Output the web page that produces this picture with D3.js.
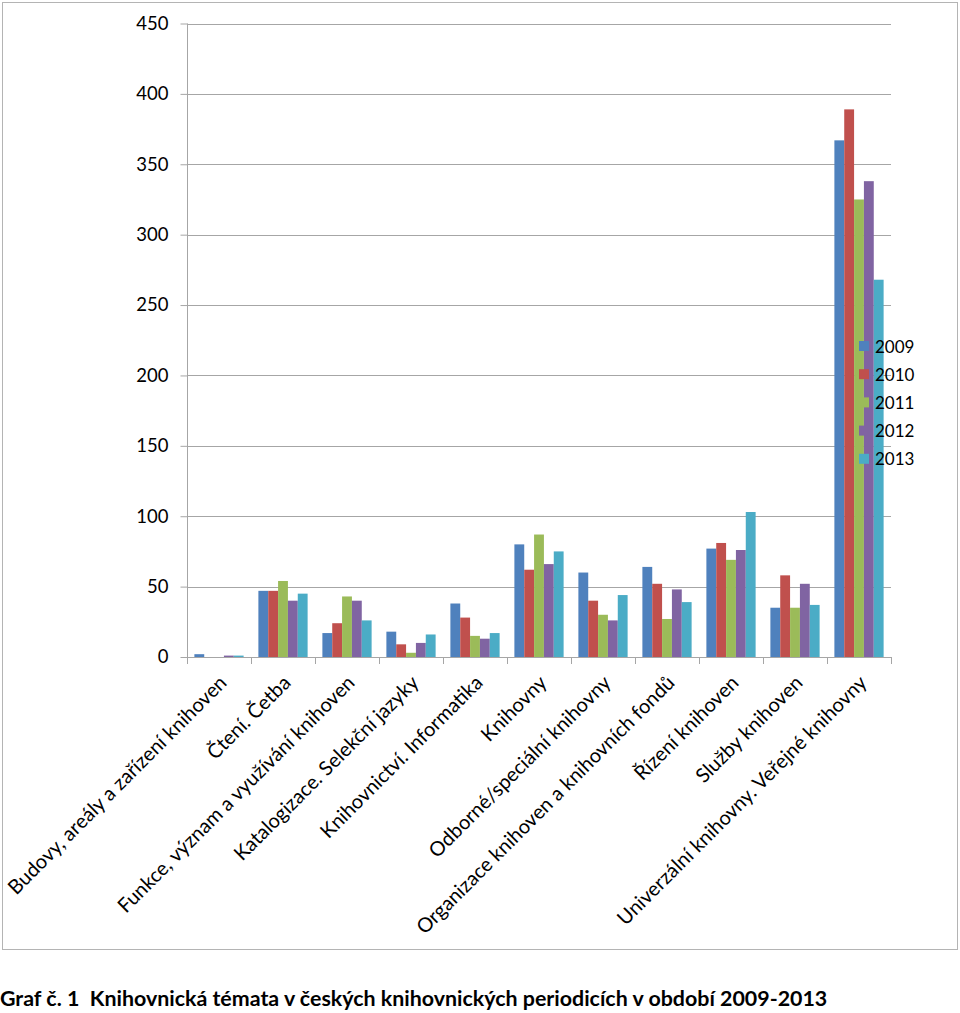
<!DOCTYPE html>
<html><head><meta charset="utf-8">
<script src="https://cdnjs.cloudflare.com/ajax/libs/d3/7.8.5/d3.min.js"></script>
<style>body{margin:0;background:#fff}svg{display:block}</style>
</head><body><svg id="c" width="960" height="1013"></svg>
<script>
const categories = [
  "Budovy, areály a zařízení knihoven",
  "Čtení. Četba",
  "Funkce, význam a využívání knihoven",
  "Katalogizace. Selekční jazyky",
  "Knihovnictví. Informatika",
  "Knihovny",
  "Odborné/speciální knihovny",
  "Organizace knihoven a knihovních fondů",
  "Řízení knihoven",
  "Služby knihoven",
  "Univerzální knihovny. Veřejné knihovny"
];
const years = ["2009","2010","2011","2012","2013"];
const v2009 = [2, 47, 17, 18, 38, 80, 60, 64, 77, 35, 367];
const v2010 = [0, 47, 24, 9, 28, 62, 40, 52, 81, 58, 389];
const v2011 = [0, 54, 43, 3, 15, 87, 30, 27, 69, 35, 325];
const v2012 = [1, 40, 40, 10, 13, 66, 26, 48, 76, 52, 338];
const v2013 = [1, 45, 26, 16, 17, 75, 44, 39, 103, 37, 268];
const yTicks = [0,50,100,150,200,250,300,350,400,450];
const colors = ["#4F81BD","#C0504D","#9BBB59","#8064A2","#4BACC6"];
const caption = "Graf č. 1  Knihovnická témata v českých knihovnických periodicích v období 2009-2013";

const series = [v2009, v2010, v2011, v2012, v2013];
const svg = d3.select("#c");
const font = "Lato, 'Open Sans', sans-serif";

svg.append("rect").attr("x",2.5).attr("y",2.5).attr("width",955).attr("height",947)
  .attr("fill","#fff").attr("stroke","#b4b4b4").attr("stroke-width",1);

const x0 = 187, x1 = 891, yTop = 23.5, yBot = 657;
const x = d3.scaleBand().domain(categories).range([x0, x1]).paddingInner(0).paddingOuter(0);
const y = d3.scaleLinear().domain([0,450]).range([yBot, yTop]);

// gridlines
svg.append("g").selectAll("line").data(yTicks.filter(d=>d>0)).join("line")
  .attr("x1",x0).attr("x2",x1).attr("y1",d=>Math.round(y(d))+0.5).attr("y2",d=>Math.round(y(d))+0.5)
  .attr("stroke","#a6a6a6").attr("stroke-width",1);

// y axis
const ya = svg.append("g").attr("transform",`translate(${x0+0.5},0)`)
  .call(d3.axisLeft(y).tickValues(yTicks).tickSize(7).tickPadding(12).tickFormat(d3.format("d")));
ya.select(".domain").attr("stroke","#a6a6a6").attr("d",`M0,${yTop}V${yBot}`);
ya.selectAll(".tick line").attr("stroke","#a6a6a6");
ya.selectAll(".tick text").attr("font-family",font).attr("font-size",18.5).attr("fill","#000");

// bars
const bw = x.bandwidth();
const barW = bw/6.5;
const groups = svg.append("g").selectAll("g").data(series).join("g").attr("fill",(d,i)=>colors[i]);
groups.selectAll("rect").data((d,i)=>d.map((v,j)=>({v,j,i}))).join("rect")
  .attr("x",d=>x(categories[d.j]) + 0.75*barW + d.i*barW)
  .attr("width",barW)
  .attr("y",d=>y(d.v))
  .attr("height",d=>yBot - y(d.v));

// x axis
const xa = svg.append("g").attr("transform",`translate(0,${yBot+0.5})`)
  .call(d3.axisBottom(x).tickSize(0).tickFormat(""));
xa.select(".domain").attr("stroke","#a6a6a6").attr("d",`M${x0},0H${x1}`);
svg.append("g").selectAll("line").data(d3.range(categories.length+1)).join("line")
  .attr("x1",i=>x0 + i*bw + 0.5).attr("x2",i=>x0 + i*bw + 0.5)
  .attr("y1",yBot).attr("y2",yBot+7).attr("stroke","#a6a6a6");

// category labels
svg.append("g").selectAll("text").data(categories).join("text")
  .attr("transform",d=>`translate(${x(d)+bw/2+9},${yBot+27}) rotate(-45)`)
  .attr("text-anchor","end").attr("font-family",font).attr("font-size",20).attr("fill","#000")
  .text(d=>d);

// legend
const lg = svg.append("g").attr("transform","translate(859,346)");
years.forEach((yr,i)=>{
  lg.append("rect").attr("x",0).attr("y",i*28.2-5).attr("width",10).attr("height",10).attr("fill",colors[i]);
  lg.append("text").attr("x",16).attr("y",i*28.2+6.5).attr("font-family",font).attr("font-size",17).attr("fill","#000").text(yr);
});

// caption
svg.append("text").attr("x",0).attr("y",1006).attr("font-family",font).attr("font-weight","bold")
  .attr("font-size",21.4).attr("fill","#000").attr("xml:space","preserve").style("white-space","pre").text(caption);
</script></body></html>
